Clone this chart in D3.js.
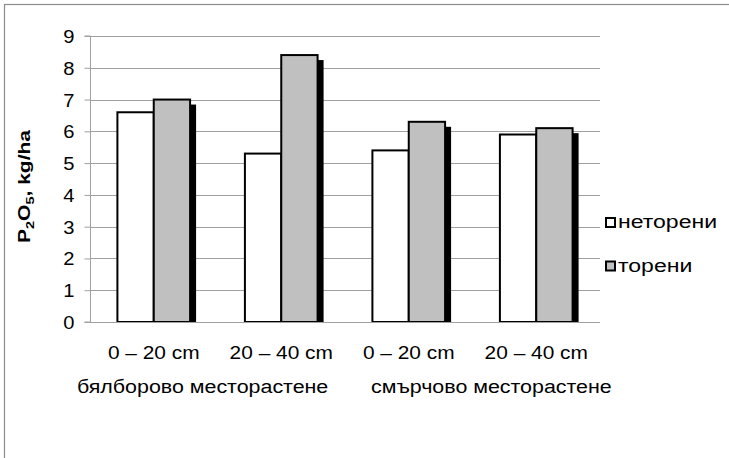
<!DOCTYPE html>
<html>
<head>
<meta charset="utf-8">
<script src="https://cdn.jsdelivr.net/npm/d3@7"></script>
<style>
  html, body { margin: 0; padding: 0; background: #fff; }
  svg { display: block; font-family: "Liberation Sans", Arial, sans-serif; }
</style>
</head>
<body>
<svg id="chart" width="729" height="458"></svg>
<script>
// ---- data ----
const categories = ["0 – 20 cm", "20 – 40 cm", "0 – 20 cm", "20 – 40 cm"];
const groups = ["бялборово месторастене", "смърчово месторастене"];
const seriesNames = ["неторени", "торени"];
const netoreni = [6.6, 5.3, 5.4, 5.9];
const toreni = [7.0, 8.4, 6.3, 6.1];
const yTicks = [0, 1, 2, 3, 4, 5, 6, 7, 8, 9];

const seriesValues = [netoreni, toreni];
const seriesFill = ["#ffffff", "#c0c0c0"];

// ---- layout ----
const W = 729, H = 458;
const plot = { left: 90, right: 600, top: 36, bottom: 322 };
const svg = d3.select("#chart");

svg.append("rect").attr("x", 0).attr("y", 0).attr("width", W).attr("height", H).attr("fill", "#fff");
svg.append("rect").attr("x", 4.5).attr("y", 4.5).attr("width", W + 10).attr("height", H + 10)
  .attr("fill", "none").attr("stroke", "#8c8c8c").attr("stroke-width", 1.2);

const y = d3.scaleLinear().domain([0, 9]).range([plot.bottom, plot.top]);
const x = d3.scaleBand().domain(d3.range(categories.length)).range([plot.left, plot.right])
  .paddingInner(0.43).paddingOuter(0.215);
const xs = d3.scaleBand().domain(d3.range(seriesNames.length)).range([0, x.bandwidth()]);

// gridlines
svg.append("g").selectAll("line").data(yTicks.filter(t => t > 0)).join("line")
  .attr("x1", plot.left).attr("x2", plot.right)
  .attr("y1", d => Math.round(y(d)) + 0.5).attr("y2", d => Math.round(y(d)) + 0.5)
  .attr("stroke", "#a0a0a0").attr("stroke-width", 1);

// y axis
const yAxis = d3.axisLeft(y).tickValues(yTicks).tickSize(6).tickPadding(10).tickFormat(d3.format("d"));
const gy = svg.append("g").attr("transform", `translate(${plot.left + 0.5},0)`).call(yAxis);
gy.select(".domain").attr("stroke", "#a0a0a0").attr("d", `M-6,${y(0)}H0V${y(9)}H-6`);
gy.selectAll(".tick line").attr("stroke", "#a0a0a0");
gy.selectAll(".tick text").attr("font-size", 18).attr("fill", "#000")
  .attr("font-family", "Liberation Sans, Arial, sans-serif")
  .attr("x", null).attr("dy", null)
  .attr("transform", "translate(-16,6.5) scale(1.12,1)");

// shadows then bars, per series
seriesValues.forEach((vals, si) => {
  const g = svg.append("g");
  g.selectAll("rect.shadow").data(vals).join("rect").attr("class", "shadow")
    .attr("x", (d, i) => x(i) + xs(si) + 6)
    .attr("y", d => y(d) + 5)
    .attr("width", xs.bandwidth())
    .attr("height", d => Math.max(0, y(0) - y(d) - 5))
    .attr("fill", "#000");
  g.selectAll("rect.bar").data(vals).join("rect").attr("class", "bar")
    .attr("x", (d, i) => x(i) + xs(si))
    .attr("y", d => y(d))
    .attr("width", xs.bandwidth())
    .attr("height", d => y(0) - y(d))
    .attr("fill", seriesFill[si]).attr("stroke", "#000").attr("stroke-width", 2);
});

// x axis line
svg.append("line").attr("x1", plot.left).attr("x2", plot.right)
  .attr("y1", plot.bottom + 0.5).attr("y2", plot.bottom + 0.5)
  .attr("stroke", "#a0a0a0").attr("stroke-width", 1.2);

// category labels
svg.append("g").selectAll("text").data(categories).join("text")
  .attr("transform", (d, i) => `translate(${x(i) + x.bandwidth() / 2},359) scale(1.16,1)`)
  .attr("text-anchor", "middle").attr("font-size", 18).attr("fill", "#000")
  .text(d => d);

// group labels
const groupX = [77, 371];
svg.append("g").selectAll("text").data(groups).join("text")
  .attr("transform", (d, i) => `translate(${groupX[i]},393) scale(1.19,1)`)
  .attr("font-size", 18).attr("fill", "#000")
  .text(d => d);

// y title
const yt = svg.append("text").attr("transform", "translate(30,186.5) rotate(-90)")
  .attr("text-anchor", "middle").attr("font-size", 16).attr("font-weight", "bold").attr("fill", "#000")
  .attr("textLength", 113).attr("lengthAdjust", "spacingAndGlyphs");
yt.append("tspan").text("P");
yt.append("tspan").attr("font-size", 11).attr("dy", 4).text("2");
yt.append("tspan").attr("dy", -4).text("O");
yt.append("tspan").attr("font-size", 11).attr("dy", 4).text("5");
yt.append("tspan").attr("dy", -4).text(", kg/ha");

// legend
const legY = [222.5, 266];
const leg = svg.append("g");
seriesNames.forEach((name, i) => {
  leg.append("rect").attr("x", 606).attr("y", legY[i] - 4.5).attr("width", 9).attr("height", 9)
    .attr("fill", seriesFill[i]).attr("stroke", "#000").attr("stroke-width", 2);
  leg.append("text").attr("transform", `translate(618,${legY[i] + 5.5}) scale(1.28,1)`)
    .attr("font-size", 18).attr("fill", "#000").text(name);
});
</script>
</body>
</html>
